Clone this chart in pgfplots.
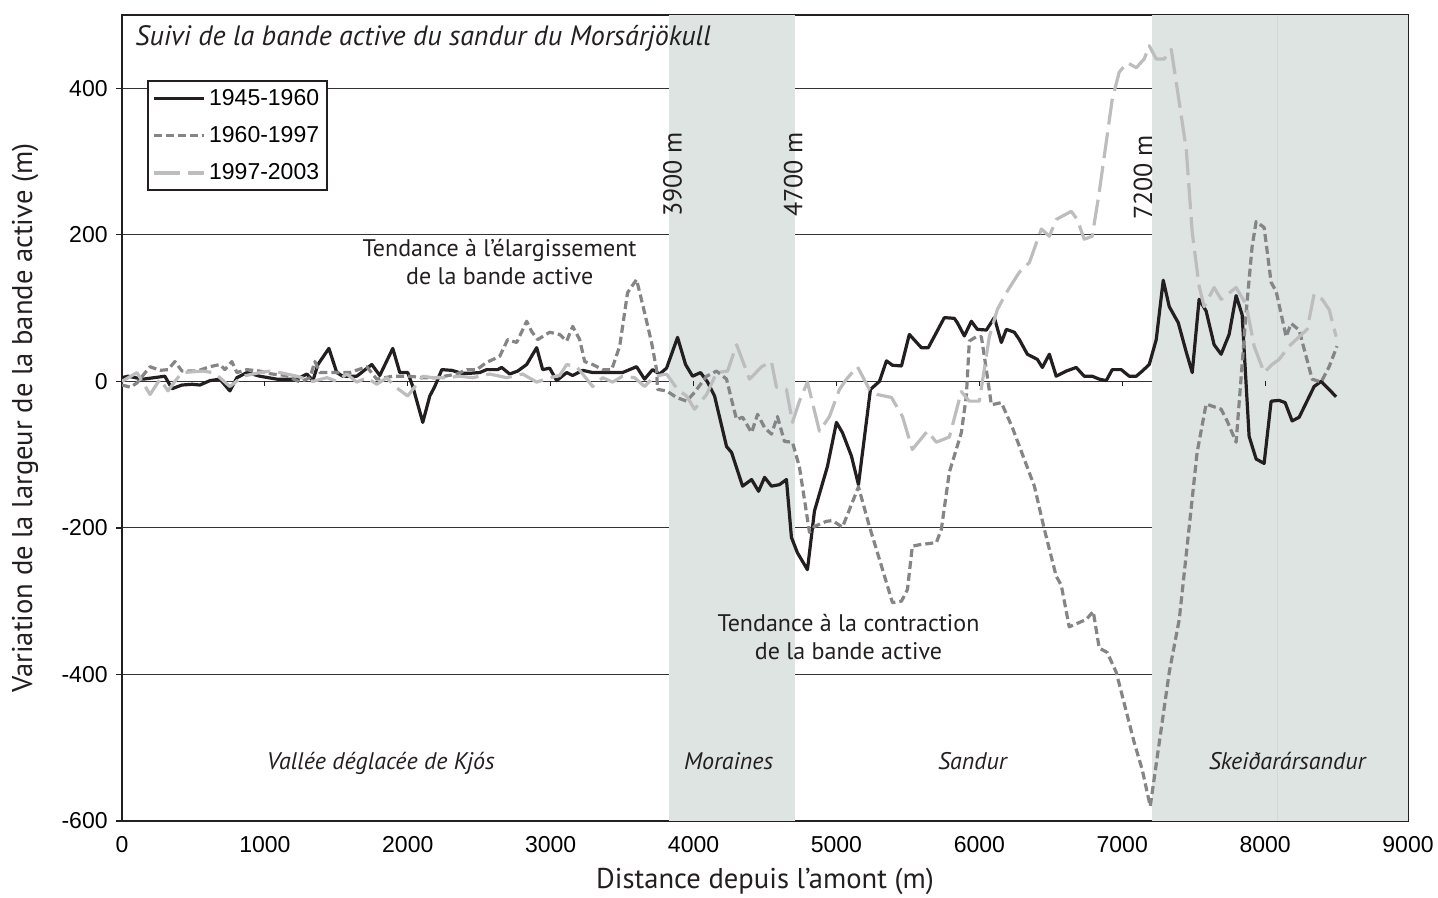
\documentclass[border=0pt]{standalone}
\usepackage{pgfplots}
\pgfplotsset{compat=1.18}
\usepackage{fontspec}
\setmainfont{Liberation Sans}
\newfontfamily\myriad{PT Sans}
\definecolor{cblack}{HTML}{231F20}
\definecolor{cdark}{HTML}{858587}
\definecolor{clight}{HTML}{BDBDBF}
\definecolor{cshade}{HTML}{DDE4E2}
\definecolor{cshadeline}{HTML}{D2D9D7}

\pgfplotstableread{
x y
0 5
42 7
147 3
300 7
350 -10
420 -5
490 -4
545 -5
615 1
685 3
755 -13
804 5
874 12
965 7
1084 3
1224 3
1294 10
1336 1
1371 23
1448 45
1503 12
1545 7
1643 7
1748 23
1804 8
1895 45
1944 12
2000 12
2035 -7
2105 -56
2154 -20
2189 -7
2238 16
2308 15
2378 11
2434 11
2503 12
2552 16
2629 16
2657 19
2713 10
2769 14
2832 23
2902 46
2944 16
2993 18
3042 1
3112 12
3154 8
3224 15
3294 12
3392 12
3503 12
3601 20
3657 3
3713 16
3762 10
3811 18
3888 60
3944 23
3993 7
4049 12
4098 -1
4147 -20
4231 -89
4266 -97
4343 -143
4406 -134
4455 -150
4497 -131
4545 -143
4601 -141
4650 -134
4685 -213
4727 -234
4797 -257
4846 -177
4937 -116
5000 -56
5042 -70
5105 -102
5154 -141
5238 -11
5301 0
5350 28
5392 22
5455 21
5510 64
5594 46
5643 46
5755 87
5825 86
5846 80
5895 62
5944 82
5986 71
6049 70
6105 87
6154 53
6189 71
6245 67
6280 57
6336 37
6406 30
6441 19
6490 37
6538 7
6608 14
6678 19
6734 7
6790 7
6839 3
6888 1
6930 16
6993 16
7049 7
7098 7
7140 14
7189 23
7238 57
7287 138
7329 102
7392 80
7448 40
7490 12
7538 112
7587 96
7643 50
7692 37
7748 64
7797 117
7839 91
7888 -75
7937 -106
7993 -112
8042 -27
8098 -26
8140 -29
8189 -54
8238 -49
8343 -7
8392 0
8497 -21
}\seriesA

\pgfplotstableread{
x y
0 -5
60 -8
105 -2
196 20
266 15
322 16
370 27
420 14
524 14
615 20
685 23
720 16
769 27
804 12
874 16
965 14
1050 10
1150 8
1245 -1
1315 5
1350 27
1385 12
1503 12
1594 12
1713 20
1783 3
1895 7
2014 7
2105 5
2200 5
2343 10
2413 16
2483 16
2552 26
2643 34
2699 57
2762 53
2832 82
2867 68
2909 57
2993 67
3063 64
3112 55
3154 75
3203 57
3238 27
3294 23
3364 16
3427 16
3483 48
3538 121
3601 139
3657 94
3706 53
3741 16
3748 -11
3811 -13
3881 -22
3951 -27
4007 -15
4091 7
4161 14
4231 3
4266 -25
4301 -52
4343 -49
4406 -70
4448 -45
4497 -63
4545 -72
4587 -48
4636 -82
4692 -83
4741 -117
4790 -179
4811 -206
4846 -198
4930 -191
4972 -190
5042 -199
5154 -144
5231 -198
5315 -252
5392 -302
5455 -300
5497 -284
5531 -225
5580 -223
5699 -220
5734 -202
5790 -124
5874 -70
5909 -20
5930 55
5979 61
6014 61
6049 16
6084 -32
6154 -29
6231 -63
6385 -143
6455 -202
6538 -266
6573 -278
6629 -335
6748 -325
6797 -314
6839 -364
6895 -370
6958 -397
7084 -493
7140 -530
7196 -580
7329 -397
7399 -325
7469 -198
7524 -97
7587 -31
7692 -38
7734 -54
7797 -83
7867 94
7909 184
7937 218
7993 210
8042 135
8077 123
8147 61
8182 79
8238 70
8329 3
8392 -1
8448 20
8503 48
}\seriesB

\pgfplotstableread{
x y
0 0
105 12
196 -18
266 3
322 -13
370 0
420 12
566 14
636 12
685 5
755 -7
846 7
965 12
1035 14
1105 12
1224 7
1336 0
1434 5
1503 0
1573 10
1643 -1
1713 5
1783 -4
1853 5
1909 -7
2000 -20
2105 7
2175 5
2273 5
2364 7
2455 5
2573 10
2692 5
2804 10
2902 -1
2993 5
3063 8
3112 23
3182 20
3224 10
3294 -7
3364 5
3434 -1
3503 7
3587 5
3657 -7
3727 7
3811 10
3888 -11
3951 -20
4007 -38
4091 -18
4161 12
4238 14
4301 50
4392 3
4476 20
4545 27
4580 -8
4650 -11
4692 -56
4741 -27
4797 -1
4881 -68
4951 -48
5021 -11
5070 3
5147 20
5231 -11
5287 -18
5385 -22
5462 -48
5531 -93
5636 -68
5699 -83
5790 -76
5874 -14
5930 -27
6000 -27
6070 61
6126 98
6189 121
6280 149
6350 162
6434 208
6490 198
6538 221
6643 232
6685 221
6734 194
6790 198
6839 258
6930 385
6979 422
7035 435
7098 428
7154 440
7189 458
7238 440
7294 440
7343 453
7378 408
7448 317
7490 203
7538 130
7573 102
7643 128
7692 112
7797 128
7867 105
7923 48
7993 12
8049 23
8098 30
8168 48
8294 71
8343 119
8399 112
8448 98
8497 61
}\seriesC

\begin{document}
\begin{tikzpicture}
\begin{axis}[
  name=ax,
  set layers=standard,
  scale only axis,
  width=643pt, height=403pt,
  xmin=0, xmax=9000, ymin=-600, ymax=500,
  xtick={0,1000,...,9000},
  ytick={-600,-400,...,400},
  /pgf/number format/assume math mode=true,
  /pgf/number format/1000 sep={},
  tick label style={font=\fontsize{11.5}{13}\selectfont, color=black},
  tick align=outside,
  tick pos=left,
  major tick length=3pt,
  x tick style={draw=none},
  y tick style={line width=0.6pt, color=cblack},
  xticklabel style={inner sep=0pt, yshift=-4.5pt},
  yticklabel style={inner sep=0pt, xshift=-4pt},
  ymajorgrids,
  major grid style={line width=0.55pt, color=black!80},
  axis line style={line width=1.3pt, color=cblack},
  xlabel={Distance depuis l’amont (m)},
  ylabel={Variation de la largeur de la bande active (m)},
  every axis x label/.style={at={(axis description cs:0.5,-0.0755)}, anchor=center,
    font=\myriad\fontsize{14.3}{16}\selectfont, text=cblack},
  every axis y label/.style={at={(axis description cs:-0.0754,0.5)}, anchor=center, rotate=90,
    font=\myriad\fontsize{14.3}{16}\selectfont, text=cblack},
  legend style={at={(rel axis cs:0.0194,0.919)}, anchor=north west, draw=cblack, line width=1pt,
    font=\fontsize{11.5}{13}\selectfont, inner sep=2pt, row sep=5pt, fill=white},
  legend cell align=left,
  legend image code/.code={\draw[#1] (0pt,0pt) -- (25pt,0pt);},
  line join=round,
]
\fill[cshade, on layer=axis background] (axis cs:3830,-600) rectangle (axis cs:4710,500);
\fill[cshade, on layer=axis background] (axis cs:7210,-600) rectangle (axis cs:9000,500);
\draw[cshadeline, line width=0.5pt, on layer=axis background] (axis cs:8090,-600) -- (axis cs:8090,500);
\pgfplotsinvokeforeach{1000,2000,3000,4000,5000,6000,7000,8000}{
  \draw[line width=0.6pt, cblack] (axis cs:#1,0) -- ([yshift=-2.5pt]axis cs:#1,0);
}

\addplot[cblack, line width=1.6pt, no markers] table[x=x,y=y] {\seriesA};
\addlegendentry{1945-1960}
\addplot[cdark, line width=1.6pt, no markers, dash pattern=on 4pt off 2pt] table[x=x,y=y] {\seriesB};
\addlegendentry{1960-1997}
\addplot[clight, line width=1.6pt, no markers, dash pattern=on 13pt off 4pt] table[x=x,y=y] {\seriesC};
\addlegendentry{1997-2003}

\node[anchor=base west, inner sep=0pt, font=\myriad\itshape\fontsize{14}{16}\selectfont, text=cblack] at (axis cs:91,459) {Suivi de la bande active du sandur du Morsárjökull};

\node[anchor=base, inner sep=0pt, font=\myriad\fontsize{12}{14}\selectfont, text=cblack] at (axis cs:2643,171) {Tendance à l’élargissement};
\node[anchor=base, inner sep=0pt, font=\myriad\fontsize{12}{14}\selectfont, text=cblack] at (axis cs:2643,132) {de la bande active};
\node[anchor=base, inner sep=0pt, font=\myriad\fontsize{12}{14}\selectfont, text=cblack] at (axis cs:5084,-341) {Tendance à la contraction};
\node[anchor=base, inner sep=0pt, font=\myriad\fontsize{12}{14}\selectfont, text=cblack] at (axis cs:5084,-380) {de la bande active};

\node[anchor=base west, rotate=90, inner sep=0pt, font=\myriad\fontsize{13}{15}\selectfont, text=cblack] at (axis cs:3916,224) {3900 m};
\node[anchor=base west, rotate=90, inner sep=0pt, font=\myriad\fontsize{13}{15}\selectfont, text=cblack] at (axis cs:4762,224) {4700 m};
\node[anchor=base west, rotate=90, inner sep=0pt, font=\myriad\fontsize{13}{15}\selectfont, text=cblack] at (axis cs:7210,220) {7200 m};

\node[anchor=base, inner sep=0pt, font=\myriad\itshape\fontsize{12}{14}\selectfont, text=cblack] at (axis cs:1811,-530) {Vallée déglacée de Kjós};
\node[anchor=base, inner sep=0pt, font=\myriad\itshape\fontsize{12}{14}\selectfont, text=cblack] at (axis cs:4245,-530) {Moraines};
\node[anchor=base, inner sep=0pt, font=\myriad\itshape\fontsize{12}{14}\selectfont, text=cblack] at (axis cs:5951,-530) {Sandur};
\node[anchor=base, inner sep=0pt, font=\myriad\itshape\fontsize{12}{14}\selectfont, text=cblack] at (axis cs:8154,-530) {Skeiðarársandur};
\end{axis}
\pgfresetboundingbox
\path[use as bounding box] ([shift={(-61pt,-38pt)}]ax.south west) rectangle ([shift={(15pt,7.5pt)}]ax.north east);
\end{tikzpicture}
\end{document}
